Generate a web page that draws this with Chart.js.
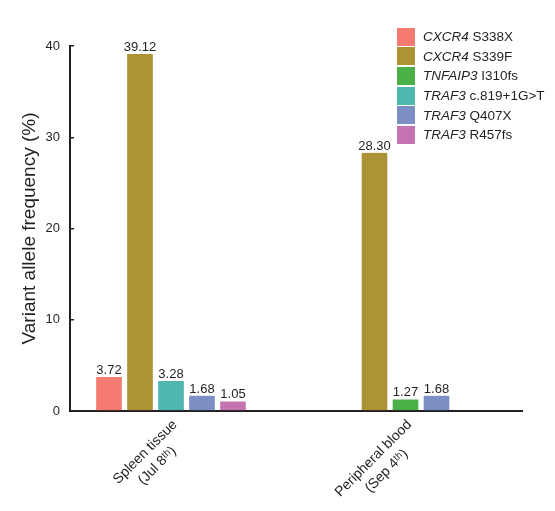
<!DOCTYPE html>
<html>
<head>
<meta charset="utf-8">
<script src="https://cdn.jsdelivr.net/npm/chart.js@4.4.1/dist/chart.umd.min.js"></script>
<style>
  html, body { margin: 0; padding: 0; background: #fff; }
  #wrap { position: relative; width: 555px; height: 511px; }
  #legend { position: absolute; left: 397px; top: 27px; font: 13.5px "Liberation Sans", Arial, sans-serif; color: #231f20; }
  #legend .row { display: flex; align-items: center; height: 19.6px; white-space: pre; }
  #legend .box { width: 18px; height: 18px; margin-right: 8px; }
</style>
</head>
<body>
<div id="wrap">
  <canvas id="myChart" width="555" height="511"></canvas>
  <div id="legend"></div>
</div>
<script>
const categories = [['Spleen tissue', '(Jul 8\u1d57\u02b0)'], ['Peripheral blood', '(Sep 4\u1d57\u02b0)']];
const genes = ['CXCR4', 'CXCR4', 'TNFAIP3', 'TRAF3', 'TRAF3', 'TRAF3'];
const variants = ['S338X', 'S339F', 'I310fs', 'c.819+1G>T', 'Q407X', 'R457fs'];
const colors = ['#f47a72', '#ad9236', '#4cb049', '#4fb7ad', '#7b8fc5', '#c474b0'];

const cxcr4S338X = [3.72, null];
const cxcr4S339F = [39.12, 28.30];
const tnfaip3I310fs = [null, 1.27];
const traf3C819 = [3.28, null];
const traf3Q407X = [1.68, 1.68];
const traf3R457fs = [1.05, null];
const series = [cxcr4S338X, cxcr4S339F, tnfaip3I310fs, traf3C819, traf3Q407X, traf3R457fs];

const yTicks = [0, 10, 20, 30, 40];
const yTitle = 'Variant allele frequency (%)';

const FONT = '"Liberation Sans", Arial, sans-serif';
const INK = '#231f20';

// rotated tick labels are right-aligned by Chart.js; pad the short
// second line with spaces so it sits centred under the first one
const measure = document.createElement('canvas').getContext('2d');
function centreLines(lines) {
  measure.font = `14px ${FONT}`;
  const w0 = measure.measureText(lines[0]).width;
  const w1 = measure.measureText(lines[1]).width;
  const sp = measure.measureText(' ').width;
  const n = Math.max(0, Math.round((w0 - w1) / 2 / sp));
  return [lines[0], lines[1] + ' '.repeat(n)];
}

const valueLabels = {
  id: 'valueLabels',
  afterDatasetsDraw(chart) {
    const { ctx } = chart;
    ctx.save();
    ctx.font = `13px ${FONT}`;
    ctx.fillStyle = INK;
    ctx.textAlign = 'center';
    ctx.textBaseline = 'alphabetic';
    chart.data.datasets.forEach((ds, di) => {
      chart.getDatasetMeta(di).data.forEach((bar, i) => {
        const v = ds.data[i].y;
        if (v === null) return;
        ctx.fillText(v.toFixed(2), bar.x, bar.y - 3);
      });
    });
    ctx.restore();
  },
};

function buildLegend() {
  const box = document.getElementById('legend');
  genes.forEach((g, i) => {
    const row = document.createElement('div');
    row.className = 'row';
    const sw = document.createElement('span');
    sw.className = 'box';
    sw.style.background = colors[i];
    const it = document.createElement('i');
    it.textContent = g;
    row.append(sw, it, document.createTextNode(' ' + variants[i]));
    box.appendChild(row);
  });
}

const ctx = document.getElementById('myChart').getContext('2d');
new Chart(ctx, {
  type: 'bar',
  data: {
    datasets: series.map((s, k) => ({
      label: genes[k] + ' ' + variants[k],
      data: s.map((v, i) => ({ x: i, y: v })),
      backgroundColor: colors[k],
      borderColor: 'rgba(0,0,0,0)',
      borderWidth: { left: 3, right: 3, top: 0, bottom: 0 },
      barThickness: 31,
      skipNull: true,
    })),
  },
  options: {
    responsive: false,
    animation: false,
    layout: { padding: { top: 46, right: 33, left: 0, bottom: 0 } },
    plugins: { legend: { display: false }, tooltip: { enabled: false } },
    scales: {
      x: {
        type: 'linear',
        offset: false,
        min: -0.4307,
        max: 1.4968,
        z: 1,
        afterBuildTicks: axis => { axis.ticks = categories.map((c, i) => ({ value: i })); },
        afterFit: axis => { axis.height = 100; },
        grid: { display: false, drawTicks: false },
        border: { display: true, color: INK, width: 2 },
        ticks: {
          autoSkip: false,
          minRotation: 45,
          maxRotation: 45,
          padding: 5,
          labelOffset: 4,
          color: INK,
          font: { family: FONT, size: 14, lineHeight: 1.3 },
          callback: (v, i) => centreLines(categories[i]),
        },
      },
      y: {
        min: 0,
        max: 40,
        z: 1,
        afterBuildTicks: axis => { axis.ticks = yTicks.map(v => ({ value: v })); },
        afterFit: axis => { axis.width = 70; },
        grid: { drawOnChartArea: false, drawTicks: true, tickLength: -4, color: INK, lineWidth: 1.5 },
        border: { display: true, color: INK, width: 2 },
        ticks: { padding: 14, color: INK, font: { family: FONT, size: 13 } },
        title: {
          display: true,
          text: yTitle,
          color: INK,
          padding: { top: 18, bottom: 0 },
          font: { family: FONT, size: 19 },
        },
      },
    },
  },
  plugins: [valueLabels],
});
buildLegend();
</script>
</body>
</html>
